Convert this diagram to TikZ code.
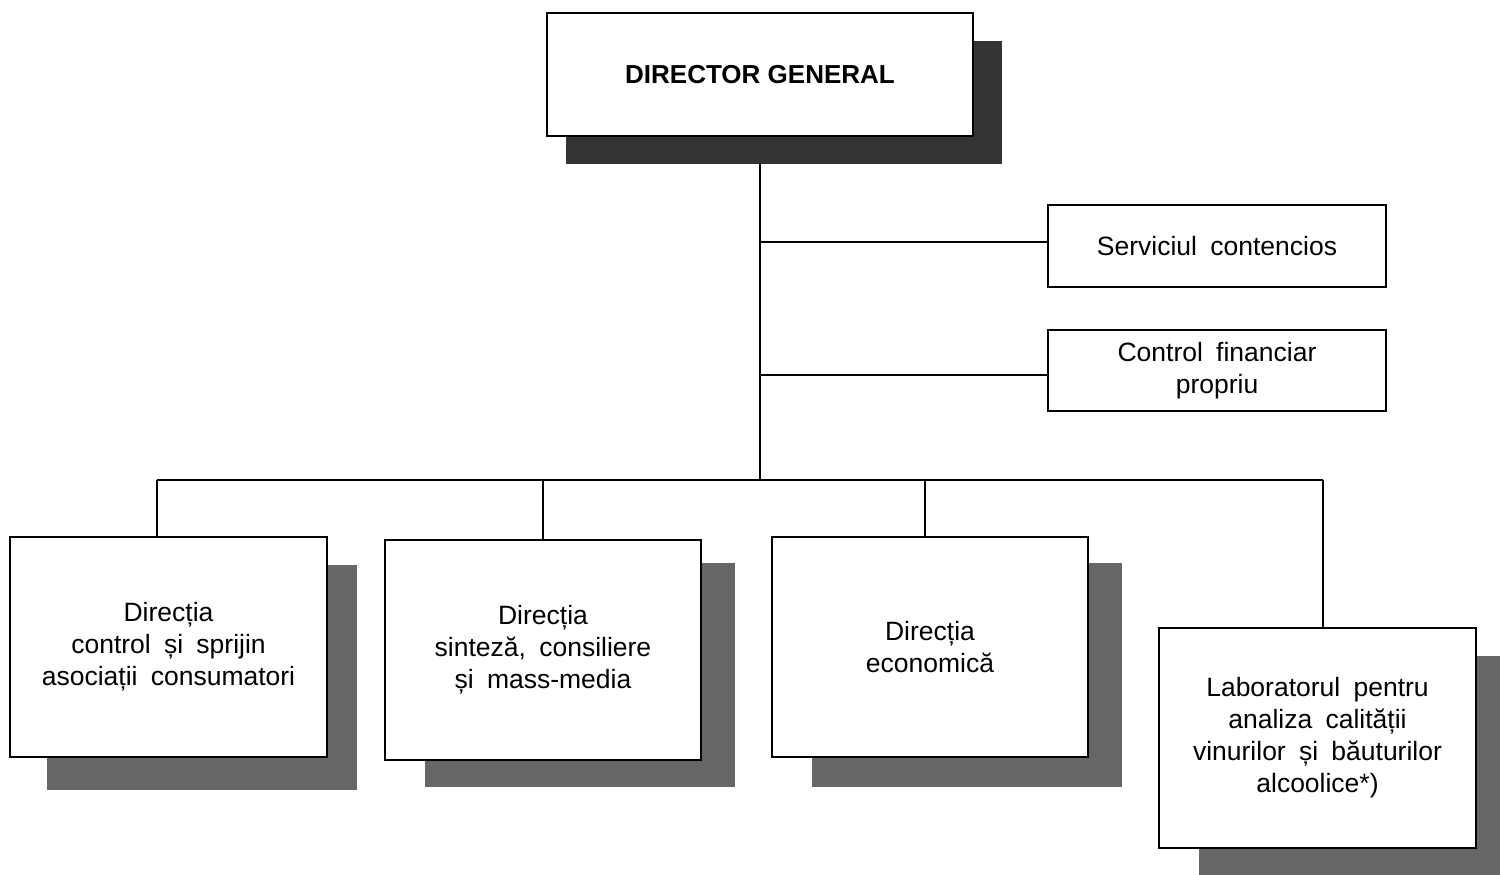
\documentclass[tikz,border=0pt]{standalone}
\usepackage{fontspec}
\setmainfont{Liberation Sans}[WordSpace=1.8]
\newfontfamily\dgfont{Liberation Sans}
\pgfdeclarelayer{bg}
\pgfsetlayers{bg,main}
\begin{document}
\begin{tikzpicture}[x=1pt,y=-1pt]
\tikzset{
  box/.style={draw=black, line width=1.2pt, fill=white, inner sep=0pt, align=center,
    font=\fontsize{26.5}{32}\selectfont},
  darkshade/.style={fill=black!80},
  greyshade/.style={fill=black!60},
  conn/.style={line width=1.3pt, draw=black}
}
\useasboundingbox (0,0) rectangle (1500,875);
% nodes
\node[box, minimum width=426pt, minimum height=123pt, font=\dgfont\fontsize{26}{32}\selectfont\bfseries] (dg) at (760,74.5) {DIRECTOR GENERAL};
\node[box, minimum width=338pt, minimum height=82pt] (sc) at (1217,246) {Serviciul contencios};
\node[box, minimum width=338pt, minimum height=81pt] (cf) at (1217,370.5) {Control financiar\\propriu};
\node[box, minimum width=317pt, minimum height=220pt] (d1) at (168.5,647) {Direcția\\control și sprijin\\asociații consumatori};
\node[box, minimum width=316pt, minimum height=220pt] (d2) at (543,650) {Direcția\\sinteză, consiliere\\și mass-media};
\node[box, minimum width=316pt, minimum height=220pt] (d3) at (930,647) {Direcția\\economică};
\node[box, minimum width=317pt, minimum height=220pt] (d4) at (1317.5,738) {Laboratorul pentru\\analiza calității\\vinurilor și băuturilor\\alcoolice*)};
\coordinate (trunk) at (760,480);
\coordinate (b1) at (157,480);
\coordinate (b2) at (543,480);
\coordinate (b3) at (925,480);
\coordinate (b4) at (1323,480);
\begin{pgfonlayer}{bg}
  \draw[conn] (dg.south) -- (trunk);
  \draw[conn] ([yshift=4pt]sc.west -| trunk) -- ([yshift=4pt]sc.west);
  \draw[conn] ([yshift=-4.5pt]cf.west -| trunk) -- ([yshift=-4.5pt]cf.west);
  \draw[conn] (b1) -- (b4);
  \draw[conn] (b1) -- (b1 |- d1.north);
  \draw[conn] (b2) -- (b2 |- d2.north);
  \draw[conn] (b3) -- (b3 |- d3.north);
  \draw[conn] (b4) -- (b4 |- d4.north);
  % shadows
  \fill[darkshade] (566,41) rectangle (1002,164);
  \fill[greyshade] (47,565) rectangle (357,790);
  \fill[greyshade] (425,563) rectangle (735,787);
  \fill[greyshade] (812,563) rectangle (1122,787);
  \fill[greyshade] (1199,656) rectangle (1500,875);
\end{pgfonlayer}
\end{tikzpicture}
\end{document}
